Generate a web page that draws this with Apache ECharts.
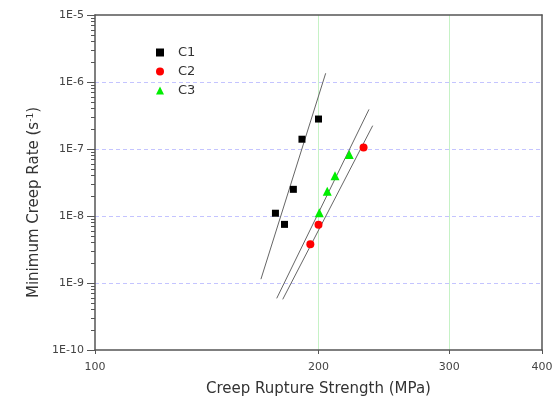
<!DOCTYPE html>
<html>
<head>
<meta charset="utf-8">
<script src="https://cdn.jsdelivr.net/npm/echarts@6/dist/echarts.min.js"></script>
<style>html,body{margin:0;padding:0;background:#fff}#c{width:560px;height:406px}</style>
</head>
<body>
<div id="c"></div>
<script>
// Measured data (stress in MPa, minimum creep rate in 1/s)
var c1Stress = [200, 190, 185, 175, 180];
var c1Rate = [2.8e-7, 1.4e-7, 2.5e-8, 1.1e-8, 7.5e-9];
var c2Stress = [230, 200, 195];
var c2Rate = [1.05e-7, 7.4e-9, 3.8e-9];
var c3Stress = [220, 210.5, 205.5, 200.5];
var c3Rate = [8.3e-8, 4.0e-8, 2.35e-8, 1.12e-8];
// Fitted lines end points
var c1FitStress = [167.3, 204.5];
var c1FitRate = [1.14e-9, 1.35e-6];
var c2FitStress = [179, 236.6];
var c2FitRate = [5.7e-10, 2.23e-7];
var c3FitStress = [175.7, 233.9];
var c3FitRate = [5.9e-10, 3.9e-7];
// Tick values
var xTicks = [100, 200, 300, 400];
var xGrid = [200, 300];
var yTicks = [1e-10, 1e-9, 1e-8, 1e-7, 1e-6, 1e-5];
var yGrid = [1e-9, 1e-8, 1e-7, 1e-6];
var yMinorMultipliers = [2, 3, 4, 5, 6, 7, 8, 9];
var seriesNames = ['C1', 'C2', 'C3'];

function pairs(xs, ys) { return xs.map(function (x, i) { return [x, ys[i]]; }); }
var yMinor = [];
for (var d = 0; d < yTicks.length - 1; d++) {
  yMinorMultipliers.forEach(function (m) { yMinor.push(+(m * yTicks[d]).toPrecision(3)); });
}

var chart = echarts.init(document.getElementById('c'));
var axisColor = '#555';
var tickFont = 'DejaVu Sans, sans-serif';
chart.setOption({
  animation: false,
  backgroundColor: '#fff',
  grid: { left: 95, right: 18, top: 15, bottom: 56 },
  legend: {
    data: seriesNames,
    orient: 'vertical',
    left: 151, top: 38,
    itemWidth: 8, itemHeight: 8, itemGap: 0,
    textStyle: { fontSize: 13, lineHeight: 19, color: '#333', fontFamily: tickFont, padding: [0, 0, 0, 9] }
  },
  xAxis: [{
    type: 'log', min: 100, max: 400, position: 'bottom',
    name: 'Creep Rupture Strength (MPa)', nameLocation: 'middle', nameGap: 32,
    nameTextStyle: { fontSize: 15, color: '#333', fontFamily: tickFont },
    axisLine: { show: true, onZero: false, lineStyle: { color: axisColor, width: 1.5 } },
    axisTick: { show: true, length: 4, customValues: xTicks, lineStyle: { color: axisColor } },
    axisLabel: { customValues: xTicks, margin: 12, fontSize: 11, color: '#444', fontFamily: tickFont,
      formatter: function (v) { return String(Math.round(v)); } },
    splitLine: { show: false }
  }, {
    type: 'log', min: 100, max: 400, position: 'top',
    axisLine: { show: true, onZero: false, lineStyle: { color: axisColor, width: 1.5 } },
    axisTick: { show: false, customValues: xGrid },
    axisLabel: { show: false },
    splitLine: { show: true, lineStyle: { color: '#c6f2c6', width: 1 } }
  }],
  yAxis: [{
    type: 'log', min: 1e-10, max: 1e-5, position: 'left',
    name: '{a|Minimum Creep Rate (s}{b|-1}{a|)}', nameLocation: 'middle', nameGap: 53,
    nameTextStyle: {
      padding: [0, 40, 0, 0],
      rich: {
        a: { fontSize: 15, color: '#333', fontFamily: tickFont },
        b: { fontSize: 9, color: '#333', fontFamily: tickFont, verticalAlign: 'top' }
      }
    },
    axisLine: { show: true, onZero: false, lineStyle: { color: axisColor, width: 1.5 } },
    axisTick: { show: true, length: 8, customValues: yTicks, lineStyle: { color: axisColor } },
    axisLabel: { customValues: yTicks, margin: 11, fontSize: 11, color: '#444', fontFamily: tickFont,
      formatter: function (v) { return '1E' + Math.round(Math.log10(v)); } },
    splitLine: { show: false }
  }, {
    type: 'log', min: 1e-10, max: 1e-5, position: 'left',
    axisLine: { show: false, onZero: false },
    axisTick: { show: true, length: 4, customValues: yMinor, lineStyle: { color: axisColor } },
    axisLabel: { show: false },
    splitLine: { show: false }
  }, {
    type: 'log', min: 1e-10, max: 1e-5, position: 'right',
    axisLine: { show: true, onZero: false, lineStyle: { color: axisColor, width: 1.5 } },
    axisTick: { show: false, customValues: yGrid },
    axisLabel: { show: false },
    splitLine: { show: true, lineStyle: { color: '#c4c4ff', width: 1, type: [4, 3] } }
  }],
  series: [
    { type: 'line', data: pairs(c1FitStress, c1FitRate), symbol: 'none', silent: true,
      lineStyle: { color: '#666', width: 1 }, z: 1 },
    { type: 'line', data: pairs(c2FitStress, c2FitRate), symbol: 'none', silent: true,
      lineStyle: { color: '#666', width: 1 }, z: 1 },
    { type: 'line', data: pairs(c3FitStress, c3FitRate), symbol: 'none', silent: true,
      lineStyle: { color: '#666', width: 1 }, z: 1 },
    { name: 'C1', type: 'scatter', data: pairs(c1Stress, c1Rate), symbol: 'rect', symbolSize: 7,
      itemStyle: { color: '#000', opacity: 1 }, z: 3 },
    { name: 'C2', type: 'scatter', data: pairs(c2Stress, c2Rate), symbol: 'circle', symbolSize: 8,
      itemStyle: { color: '#ff0000', opacity: 1 }, z: 3 },
    { name: 'C3', type: 'scatter', data: pairs(c3Stress, c3Rate), symbol: 'triangle', symbolSize: 9,
      itemStyle: { color: '#00ee00', opacity: 1 }, z: 3 }
  ]
});
</script>
</body>
</html>
